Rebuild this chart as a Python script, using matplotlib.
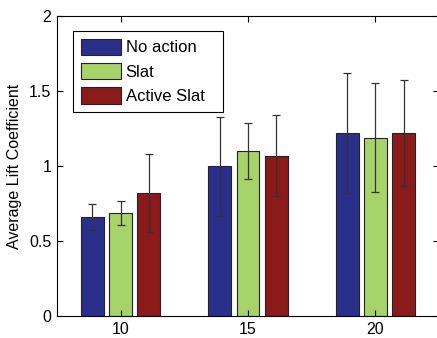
import matplotlib.pyplot as plt
import numpy as np

plt.rcParams['font.family'] = ['Liberation Sans', 'DejaVu Sans']

angles = ['10', '15', '20']
no_action = [0.66, 1.00, 1.22]
slat = [0.69, 1.10, 1.19]
active_slat = [0.82, 1.07, 1.22]
no_action_err = [0.087, 0.33, 0.40]
slat_err = [0.08, 0.19, 0.365]
active_slat_err = [0.26, 0.27, 0.355]

fig = plt.figure(figsize=(4.37, 3.38), dpi=100)
ax = fig.add_axes([57/437, 22/338, 382/437, 300/338])

x = np.arange(1, 4)
w = 0.18
off = 0.222
kw = dict(width=w, edgecolor='#222222', linewidth=0.8)
ekw = dict(ecolor='#333333', elinewidth=0.9, capthick=0.9)
ax.bar(x - off, no_action, color='#2b2f8c', yerr=no_action_err, capsize=3,
       error_kw=ekw, label='No action', **kw)
ax.bar(x, slat, color='#a6d46a', yerr=slat_err, capsize=3,
       error_kw=ekw, label='Slat', **kw)
ax.bar(x + off, active_slat, color='#8b1a1a', yerr=active_slat_err, capsize=3,
       error_kw=ekw, label='Active Slat', **kw)

ax.set_xlim(0.5, 3.5)
ax.set_ylim(0, 2)
ax.set_xticks(x)
ax.set_xticklabels(angles)
ax.set_yticks([0, 0.5, 1, 1.5, 2])
ax.set_yticklabels(['0', '0.5', '1', '1.5', '2'])
ax.tick_params(direction='in', top=True, right=True, labelsize=11.5, length=4)
ax.tick_params(axis='x', pad=4)
ax.tick_params(axis='y', pad=4)
ax.set_ylabel('Average Lift Coefficient', fontsize=11.5, labelpad=5)

leg_h = 81/300
leg = ax.legend(loc='upper left', mode='expand',
                bbox_to_anchor=(16/382, 1 - 15/300 - leg_h, 150/382, leg_h),
                fontsize=12, fancybox=False, framealpha=1, edgecolor='black',
                handlelength=2.4, handleheight=1.15, labelspacing=0.45,
                borderpad=0.45, handletextpad=0.3, borderaxespad=0)
leg.get_frame().set_linewidth(0.8)

fig.savefig('out.png', dpi=100)
